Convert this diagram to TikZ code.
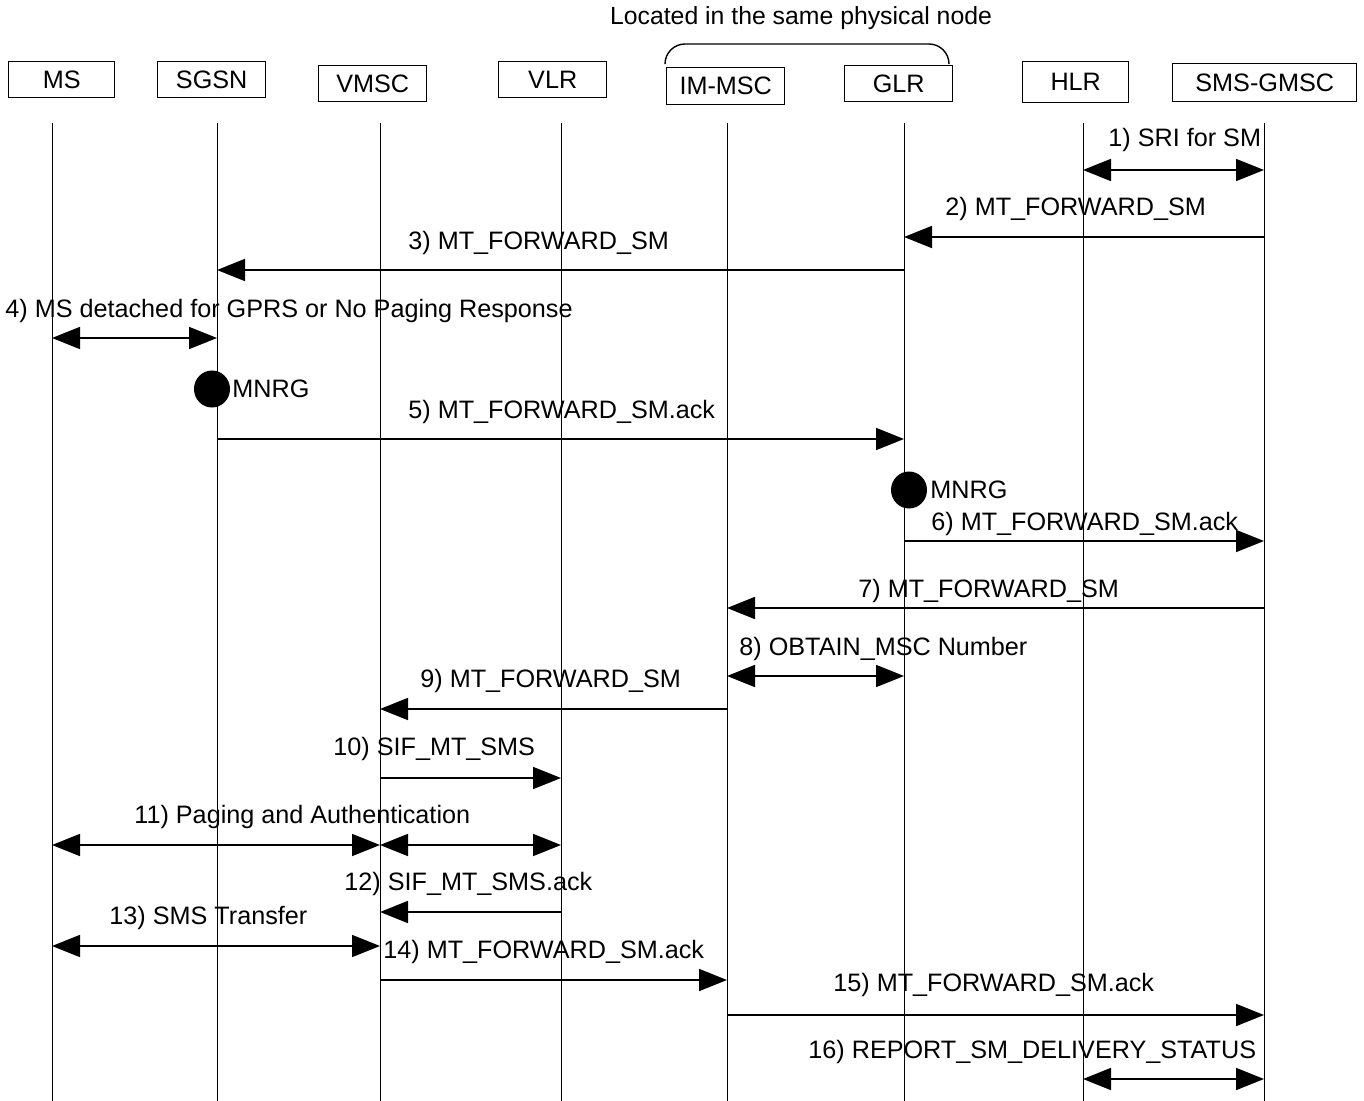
\documentclass[tikz,border=0pt]{standalone}
\usepackage{fontspec}
\setmainfont{Liberation Sans}
\usetikzlibrary{arrows.meta,positioning,shapes.geometric}
\tikzset{every node/.style={align=center,font=\fontsize{12.6pt}{14pt}\selectfont}}

\begin{document}
\begin{tikzpicture}[x=0.5pt,y=-0.5pt,
  entity/.style={draw,line width=0.7pt,anchor=north west,inner sep=0pt,minimum width=54pt,minimum height=18pt},
  txt/.style={anchor=west,inner sep=0pt},
  life/.style={line width=0.45pt},
  msg/.style={line width=0.9pt,-{Triangle[length=14pt,width=11pt]}},
  both/.style={line width=0.9pt,{Triangle[length=14pt,width=11pt]}-{Triangle[length=14pt,width=11pt]}},
  dot/.style={ellipse,fill,inner sep=0pt,minimum width=18pt,minimum height=18.5pt}]
\useasboundingbox (0,0) rectangle (1364,1101);

\node[font=\fontsize{12.4pt}{14pt}\selectfont] (title) at (801,18) {Located in the same physical node};
\draw[line width=0.7pt,rounded corners=10pt] (665,63) -- (665,44) -- (949,44) -- (949,63);

% entities
\node[entity,minimum width=53pt] (ms) at (8,61) {MS};
\node[entity] (sgsn) at (157,61) {SGSN};
\node[entity] (vmsc) at (318,65) {VMSC};
\node[entity] (vlr) at (498,61) {VLR};
\node[entity,minimum width=59pt,minimum height=18.5pt] (imsc) at (666,67) {IM-MSC};
\node[entity] (glr) at (844,65) {GLR};
\node[entity,minimum width=53pt,minimum height=20.5pt] (hlr) at (1022,61) {HLR};
\node[entity,minimum width=92pt,minimum height=19pt] (gmsc) at (1172,63) {SMS-GMSC};

% lifelines
\coordinate (ms-l) at (52,123);
\coordinate (sgsn-l) at (217,123);
\coordinate (vmsc-l) at (380,123);
\coordinate (vlr-l) at (561,123);
\coordinate (imsc-l) at (727,123);
\coordinate (glr-l) at (904,123);
\coordinate (hlr-l) at (1083,123);
\coordinate (gmsc-l) at (1264,123);
\coordinate (bot) at (0,1101);
\foreach \e in {ms,sgsn,vmsc,vlr,imsc,glr,hlr,gmsc}
  \draw[life] (\e-l) -- (\e-l |- bot);

% message levels
\coordinate (y1) at (0,170);
\coordinate (y2) at (0,237);
\coordinate (y3) at (0,270);
\coordinate (y4) at (0,338);
\coordinate (y5) at (0,439);
\coordinate (y6) at (0,541);
\coordinate (y7) at (0,608);
\coordinate (y8) at (0,676);
\coordinate (y9) at (0,709);
\coordinate (y10) at (0,778);
\coordinate (y11) at (0,845);
\coordinate (y12) at (0,912);
\coordinate (y13) at (0,946);
\coordinate (y14) at (0,980);
\coordinate (y15) at (0,1015);
\coordinate (y16) at (0,1079);

% messages
\node[txt] (l1) at (1108,140) {1) SRI for SM};
\draw[both] (hlr-l |- y1) -- (gmsc-l |- y1);
\node[txt] (l2) at (945,209) {2) MT\_FORWARD\_SM};
\draw[msg] (gmsc-l |- y2) -- (glr-l |- y2);
\node[txt] (l3) at (408,243) {3) MT\_FORWARD\_SM};
\draw[msg] (glr-l |- y3) -- (sgsn-l |- y3);
\node[txt] (l4) at (5,311) {4) MS detached for GPRS or No Paging Response};
\draw[both] (ms-l |- y4) -- (sgsn-l |- y4);

\node[dot] (d1) at (212,389) {};
\node[txt] (mnrg1) at (232,389) {MNRG};
\node[txt] (l5) at (408,412) {5) MT\_FORWARD\_SM.ack};
\draw[msg] (sgsn-l |- y5) -- (glr-l |- y5);

\node[dot] (d2) at (909,490) {};
\node[txt] (mnrg2) at (930,490) {MNRG};
\node[txt] (l6) at (931,524) {6) MT\_FORWARD\_SM.ack};
\draw[msg] (glr-l |- y6) -- (gmsc-l |- y6);
\node[txt] (l7) at (858,591) {7) MT\_FORWARD\_SM};
\draw[msg] (gmsc-l |- y7) -- (imsc-l |- y7);
\node[txt] (l8) at (739,649) {8) OBTAIN\_MSC Number};
\draw[both] (imsc-l |- y8) -- (glr-l |- y8);
\node[txt] (l9) at (420,681) {9) MT\_FORWARD\_SM};
\draw[msg] (imsc-l |- y9) -- (vmsc-l |- y9);
\node[txt] (l10) at (333,749) {10) SIF\_MT\_SMS};
\draw[msg] (vmsc-l |- y10) -- (vlr-l |- y10);
\node[txt] (l11) at (134,817) {11) Paging and Authentication};
\draw[both] (ms-l |- y11) -- (vmsc-l |- y11);
\draw[both] (vmsc-l |- y11) -- (vlr-l |- y11);
\node[txt] (l12) at (344,884) {12) SIF\_MT\_SMS.ack};
\draw[msg] (vlr-l |- y12) -- (vmsc-l |- y12);
\node[txt] (l13) at (109,918) {13) SMS Transfer};
\draw[both] (ms-l |- y13) -- (vmsc-l |- y13);
\node[txt] (l14) at (383,952) {14) MT\_FORWARD\_SM.ack};
\draw[msg] (vmsc-l |- y14) -- (imsc-l |- y14);
\node[txt] (l15) at (833,985) {15) MT\_FORWARD\_SM.ack};
\draw[msg] (imsc-l |- y15) -- (gmsc-l |- y15);
\node[txt] (l16) at (808,1052) {16) REPORT\_SM\_DELIVERY\_STATUS};
\draw[both] (hlr-l |- y16) -- (gmsc-l |- y16);

\end{tikzpicture}
\end{document}
